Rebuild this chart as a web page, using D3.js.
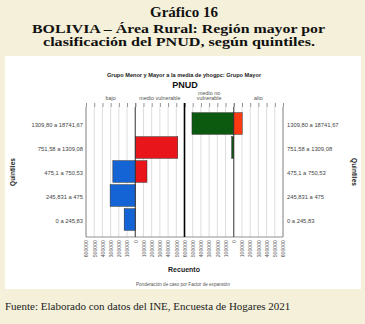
<!DOCTYPE html>
<html>
<head>
<meta charset="utf-8">
<script src="https://cdn.jsdelivr.net/npm/d3@7"></script>
<style>
  html, body { margin: 0; padding: 0; background: #f4f0d9; }
  svg { display: block; }
</style>
</head>
<body>
<svg id="chart" width="365" height="324"></svg>
<script>
// Quintiles of household per-capita income (rows, top to bottom)
const quintiles = ["1309,80 a 18741,67", "751,58 a 1309,08", "475,1 a 750,53", "245,831 a 475", "0 a 245,83"];
// PNUD classification columns
const classes = ["bajo", "medio vulnerable", "medio no\nvulnerable", "alto"];
// Weighted counts per class and quintile
const bajo = [0, 0, 273000, 306000, 135000];
const medioVulnerable = [0, 518000, 143000, 0, 0];
const medioNoVulnerable = [509000, 25000, 0, 0, 0];
const alto = [103000, 0, 0, 0, 0];
const tickValues = [0, 100000, 200000, 300000, 400000, 500000, 600000];
const countMax = 600000;

const svg = d3.select("#chart");

// Page titles
const serif = "'Liberation Serif', 'Times New Roman', serif";
const sans = "'Liberation Sans', Arial, sans-serif";
svg.append("text").attr("x", 184).attr("y", 16.5).attr("text-anchor", "middle")
  .attr("font-family", serif).attr("font-weight", "bold").attr("font-size", 15)
  .attr("fill", "#111").text("Gráfico 16");
svg.append("text").attr("x", 32).attr("y", 33.2)
  .attr("font-family", serif).attr("font-weight", "bold").attr("font-size", 12.6)
  .attr("textLength", 293).attr("lengthAdjust", "spacingAndGlyphs")
  .attr("fill", "#111").text("BOLIVIA – Área Rural: Región mayor por");
svg.append("text").attr("x", 43).attr("y", 45.8)
  .attr("font-family", serif).attr("font-weight", "bold").attr("font-size", 12.6)
  .attr("textLength", 272).attr("lengthAdjust", "spacingAndGlyphs")
  .attr("fill", "#111").text("clasificación del PNUD, según quintiles.");

// White chart panel
svg.append("rect").attr("x", 5).attr("y", 56).attr("width", 356).attr("height", 233).attr("fill", "#fff");

svg.append("text").attr("x", 184).attr("y", 77).attr("text-anchor", "middle")
  .attr("font-family", sans).attr("font-weight", "bold").attr("font-size", 5.6)
  .attr("fill", "#222").text("Grupo Menor y Mayor a la media de yhogpc: Grupo Mayor");
svg.append("text").attr("x", 185).attr("y", 87.5).attr("text-anchor", "middle")
  .attr("font-family", sans).attr("font-weight", "bold").attr("font-size", 9)
  .attr("fill", "#111").text("PNUD");

// Plot geometry
const plotLeft = 86, plotRight = 283, plotTop = 107, plotBottom = 237;
const halfW = (plotRight - plotLeft) / 4;
const zero1 = plotLeft + halfW, centerX = plotLeft + 2 * halfW, zero2 = plotLeft + 3 * halfW;

const y = d3.scaleBand().domain(quintiles).range([111.5, 231.5]).paddingInner(0.1).paddingOuter(0.05);

// One scale per half-panel: two pyramids side by side
const xScales = [
  d3.scaleLinear().domain([0, countMax]).range([zero1, plotLeft]),
  d3.scaleLinear().domain([0, countMax]).range([zero1, centerX]),
  d3.scaleLinear().domain([0, countMax]).range([zero2, centerX]),
  d3.scaleLinear().domain([0, countMax]).range([zero2, plotRight])
];
const series = [bajo, medioVulnerable, medioNoVulnerable, alto];
const colors = ["#1564d6", "#e8161b", "#0b5a10", "#ff3a12"];

// Gridlines
const grid = svg.append("g");
xScales.forEach(sc => {
  tickValues.forEach(t => {
    grid.append("line").attr("x1", sc(t)).attr("x2", sc(t))
      .attr("y1", plotTop).attr("y2", plotBottom)
      .attr("stroke", "#d4d4d4").attr("stroke-width", 0.8);
  });
});

// Top tick marks
xScales.forEach(sc => {
  const ax = d3.axisTop(sc).tickValues(tickValues).tickSize(4).tickFormat("");
  const g = svg.append("g").attr("transform", `translate(0,${plotTop})`).call(ax);
  g.select(".domain").remove();
  g.selectAll(".tick line").attr("stroke", "#666").attr("stroke-width", 0.7);
});

// Bars
series.forEach((vals, i) => {
  const sc = xScales[i];
  svg.append("g").selectAll("rect")
    .data(vals.map((v, j) => ({ v, q: quintiles[j] })).filter(d => d.v > 0))
    .join("rect")
    .attr("x", d => Math.min(sc(0), sc(d.v)))
    .attr("width", d => Math.abs(sc(d.v) - sc(0)))
    .attr("y", d => y(d.q))
    .attr("height", y.bandwidth())
    .attr("fill", colors[i])
    .attr("stroke", "#2a2a2a").attr("stroke-width", 0.5);
});

// Frame and reference lines
svg.append("line").attr("x1", plotLeft).attr("x2", plotLeft).attr("y1", plotTop).attr("y2", plotBottom)
  .attr("stroke", "#777").attr("stroke-width", 0.8);
svg.append("line").attr("x1", plotRight).attr("x2", plotRight).attr("y1", plotTop).attr("y2", plotBottom)
  .attr("stroke", "#777").attr("stroke-width", 0.8);
svg.append("line").attr("x1", plotLeft).attr("x2", plotRight).attr("y1", plotBottom).attr("y2", plotBottom)
  .attr("stroke", "#777").attr("stroke-width", 0.8);
svg.append("line").attr("x1", zero1).attr("x2", zero1).attr("y1", plotTop).attr("y2", plotBottom)
  .attr("stroke", "#333").attr("stroke-width", 0.9);
svg.append("line").attr("x1", centerX).attr("x2", centerX).attr("y1", plotTop - 4).attr("y2", plotBottom)
  .attr("stroke", "#000").attr("stroke-width", 1.6);
svg.append("line").attr("x1", zero2).attr("x2", zero2).attr("y1", plotTop).attr("y2", plotBottom)
  .attr("stroke", "#333").attr("stroke-width", 0.9);

// Column headers
const headerG = svg.append("g").attr("font-family", sans).attr("font-size", 5.4).attr("fill", "#555");
classes.forEach((c, i) => {
  const sc = xScales[i];
  const cx = (sc(0) + sc(countMax)) / 2;
  const lines = c.split("\n");
  lines.forEach((ln, k) => {
    headerG.append("text").attr("x", cx).attr("y", 100 - (lines.length - 1 - k) * 5.5)
      .attr("text-anchor", "middle").text(ln);
  });
});

// Row labels on both sides
const rowFont = { family: sans, size: 5.8, color: "#444" };
const leftAxis = d3.axisLeft(y).tickSize(0).tickPadding(3);
const gl = svg.append("g").attr("transform", `translate(${plotLeft},1.5)`).call(leftAxis);
gl.select(".domain").remove();
gl.selectAll("text").attr("font-family", rowFont.family).attr("font-size", rowFont.size).attr("fill", rowFont.color);
const rightAxis = d3.axisRight(y).tickSize(0).tickPadding(4);
const gr = svg.append("g").attr("transform", `translate(${plotRight},1.5)`).call(rightAxis);
gr.select(".domain").remove();
gr.selectAll("text").attr("font-family", rowFont.family).attr("font-size", rowFont.size).attr("fill", rowFont.color);

// Bottom count labels, rotated
xScales.forEach((sc, i) => {
  let tv = tickValues.slice();
  if (i === 0 || i === 3) tv = tv.filter(t => t !== 0);
  if (i === 2) tv = tv.filter(t => t !== countMax);
  const ax = d3.axisBottom(sc).tickValues(tv).tickSize(0).tickFormat(d3.format("d"));
  const g = svg.append("g").attr("transform", `translate(0,${plotBottom})`).call(ax);
  g.select(".domain").remove();
  g.selectAll(".tick text")
    .attr("font-family", sans).attr("font-size", 5.2).attr("fill", "#555")
    .attr("text-anchor", "end").attr("dy", "0.35em")
    .attr("transform", "translate(0,3) rotate(-90)")
    .attr("x", 0).attr("y", 0);
});

// Axis titles
svg.append("text").attr("x", 184).attr("y", 272).attr("text-anchor", "middle")
  .attr("font-family", sans).attr("font-weight", "bold").attr("font-size", 7)
  .attr("fill", "#222").text("Recuento");
svg.append("text").attr("x", 183).attr("y", 285.5).attr("text-anchor", "middle")
  .attr("font-family", sans).attr("font-size", 4.6)
  .attr("fill", "#555").text("Ponderación de caso por Factor de expansión");
svg.append("text").attr("transform", `translate(15,172) rotate(-90)`).attr("text-anchor", "middle")
  .attr("font-family", sans).attr("font-weight", "bold").attr("font-size", 6.5)
  .attr("fill", "#222").text("Quintiles");
svg.append("text").attr("transform", `translate(352,172) rotate(90)`).attr("text-anchor", "middle")
  .attr("font-family", sans).attr("font-weight", "bold").attr("font-size", 6.5)
  .attr("fill", "#222").text("Quintiles");

// Source note
svg.append("text").attr("x", 5).attr("y", 310)
  .attr("font-family", serif).attr("font-size", 11)
  .attr("fill", "#222").text("Fuente: Elaborado con datos del INE, Encuesta de Hogares 2021");
</script>
</body>
</html>
